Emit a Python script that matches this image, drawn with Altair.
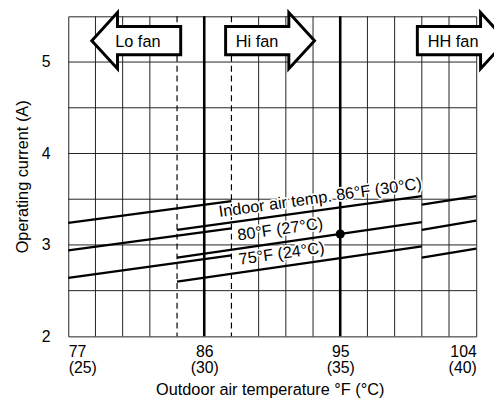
import altair as alt
import pandas as pd

# ---- axes / grid values ----
x_domain = [25, 40]          # outdoor temp in °C (labels show °F and (°C))
y_domain = [2, 5.5]          # operating current (A)
x_tick_values = [25, 30, 35, 40]
y_tick_values = [2, 3, 4, 5]
grid_x = [26, 27, 28, 32, 33, 34, 36, 37, 38, 39]
grid_y = [2.5, 3, 3.5, 4, 4.5, 5]
dashed_x = [29, 31]
thick_x = [30, 35]

# ---- curve segments (x in °C, y in A) ----
seg_series = ["86", "86", "86", "80", "80", "80", "75", "75", "75"]
seg_x_start = [25, 29, 38, 25, 29, 38, 25, 29, 38]
seg_x_end = [31, 38, 40, 31, 38, 40, 31, 38, 40]
seg_y_start = [3.24, 3.165, 3.44, 2.94, 2.86, 3.165, 2.64, 2.60, 2.86]
seg_y_end = [3.48, 3.535, 3.535, 3.18, 3.25, 3.265, 2.885, 2.985, 2.96]

# ---- rating point ----
dot_x = [35]
dot_y = [3.12]

# ---- curve labels ----
label_text = ["Indoor air temp. 86°F (30°C)", "80°F (27°C)", "75°F (24°C)"]
label_x = [34.29, 32.82, 32.87]
label_y = [3.46, 3.115, 2.85]

# ---- fan arrows ----
fan_text = ["Lo fan", "Hi fan", "HH fan"]
fan_text_x = [27.56, 31.94, 39.15]
fan_text_y = [5.16, 5.16, 5.16]
fan_arrow_x = [27.5, 32.42, 39.47]
fan_arrow_y = [5.234, 5.234, 5.234]
fan_dir = ["left", "right", "right"]

FONT = "Liberation Sans"

xs = alt.Scale(domain=x_domain, nice=False, zero=False)
ys = alt.Scale(domain=y_domain, nice=False, zero=False)
x_axis = alt.Axis(
    values=x_tick_values,
    title="Outdoor air temperature °F (°C)",
    labelExpr="[format(datum.value*9/5+32, 'd'), '(' + datum.value + ')']",
    labelLineHeight=17,
    labelPadding=7,
    labelBaseline="top",
    titleX=204,
    titleY=59,
    titleBaseline="alphabetic",
)
y_axis = alt.Axis(
    values=y_tick_values,
    title="Operating current (A)",
    labelPadding=18.5,
    titleX=-41,
    titleY=162,
    titleAngle=270,
    titleAlign="center",
    titleBaseline="alphabetic",
)


def X(field, **kw):
    return alt.X(field, type="quantitative", scale=xs, axis=x_axis, **kw)


def Y(field, **kw):
    return alt.Y(field, type="quantitative", scale=ys, axis=y_axis, **kw)


seg_df = pd.DataFrame({
    "series": seg_series, "x0": seg_x_start, "x1": seg_x_end,
    "y0": seg_y_start, "y1": seg_y_end,
})

grid_v = alt.Chart(pd.DataFrame({"x": grid_x})).mark_rule(
    color="#222", strokeWidth=1).encode(x=X("x"))
grid_h = alt.Chart(pd.DataFrame({"y": grid_y})).mark_rule(
    color="#222", strokeWidth=1).encode(y=Y("y"))
dashed = alt.Chart(pd.DataFrame({"x": dashed_x})).mark_rule(
    color="black", strokeWidth=1.2, strokeDash=[6, 4]).encode(x=X("x"))
thick = alt.Chart(pd.DataFrame({"x": thick_x})).mark_rule(
    color="black", strokeWidth=2.6).encode(x=X("x"))

segs = alt.Chart(seg_df).mark_rule(color="black", strokeWidth=2.3).encode(
    x=X("x0"), x2="x1", y=Y("y0"), y2="y1", detail="series:N")

lab_df = pd.DataFrame({"t": label_text, "x": label_x, "y": label_y})
lab_halo = alt.Chart(lab_df).mark_text(
    font=FONT, fontSize=16.5, angle=352, align="center", baseline="alphabetic",
    stroke="white", strokeWidth=3.5, strokeJoin="round", fill="white").encode(
    x=X("x"), y=Y("y"), text="t:N")
lab = alt.Chart(lab_df).mark_text(
    font=FONT, fontSize=16.5, angle=352, align="center", baseline="alphabetic",
    color="black").encode(x=X("x"), y=Y("y"), text="t:N")

dot = alt.Chart(pd.DataFrame({"x": dot_x, "y": dot_y})).mark_point(
    filled=True, color="black", size=85, opacity=1).encode(x=X("x"), y=Y("y"))

LEFT = "M -45 0 L -19 -28.5 L -19 -14.3 L 45 -14.3 L 45 14.3 L -19 14.3 L -19 28.5 Z"
RIGHT = "M 45 0 L 19 -28.5 L 19 -14.3 L -45 -14.3 L -45 14.3 L 19 14.3 L 19 28.5 Z"

arrow_df = pd.DataFrame({"x": fan_arrow_x, "y": fan_arrow_y, "dir": fan_dir})
arrows_left = alt.Chart(arrow_df[arrow_df["dir"] == "left"]).mark_point(
    shape=LEFT, size=4, filled=True, fill="white", stroke="black",
    strokeWidth=3, opacity=1, fillOpacity=1, strokeOpacity=1).encode(
    x=X("x"), y=Y("y"))
arrows_right = alt.Chart(arrow_df[arrow_df["dir"] == "right"]).mark_point(
    shape=RIGHT, size=4, filled=True, fill="white", stroke="black",
    strokeWidth=3, opacity=1, fillOpacity=1, strokeOpacity=1).encode(
    x=X("x"), y=Y("y"))
fan_lab = alt.Chart(pd.DataFrame({"t": fan_text, "x": fan_text_x, "y": fan_text_y})).mark_text(
    font=FONT, fontSize=16.5, align="center", baseline="alphabetic", color="black").encode(
    x=X("x"), y=Y("y"), text="t:N")

chart = alt.layer(
    grid_v, grid_h, dashed, thick, lab_halo, segs, lab, dot,
    arrows_left, arrows_right, fan_lab,
).properties(
    width=413, height=324,
    padding={"left": 61, "top": 6, "right": 18, "bottom": 63},
    autosize="none",
    background="white",
).configure_view(
    stroke="#222", strokeWidth=1,
).configure_axis(
    domain=False, ticks=False, grid=False,
    labelFont=FONT, labelFontSize=16, labelColor="black",
    titleFont=FONT, titleFontSize=16.5, titleFontWeight="normal", titleColor="black",
)

chart.save("out.html", embed_options={"renderer": "svg", "actions": False})
